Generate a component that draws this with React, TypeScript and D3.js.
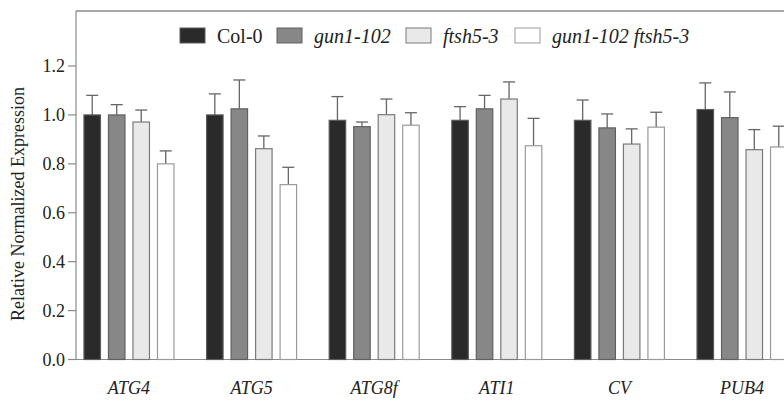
import React from 'react';
import * as d3 from 'd3';

const genes = ["ATG4", "ATG5", "ATG8f", "ATI1", "CV", "PUB4"];
const lines = ["Col-0", "gun1-102", "ftsh5-3", "gun1-102 ftsh5-3"];
const italicLegend = [false, true, true, true];

// mean expression per genotype, one array per gene (same order as lines)
const colValues = [1.0, 1.0, 0.978, 0.978, 0.978, 1.022];
const gun1Values = [1.0, 1.025, 0.952, 1.025, 0.947, 0.989];
const ftshValues = [0.971, 0.862, 1.001, 1.065, 0.881, 0.858];
const doubleValues = [0.8, 0.715, 0.958, 0.874, 0.95, 0.869];

// upper error bar end (mean + error)
const colErr = [1.08, 1.086, 1.075, 1.034, 1.061, 1.131];
const gun1Err = [1.042, 1.143, 0.971, 1.08, 1.004, 1.094];
const ftshErr = [1.02, 0.914, 1.065, 1.135, 0.943, 0.94];
const doubleErr = [0.853, 0.786, 1.009, 0.986, 1.011, 0.954];

const yTicks = [0, 0.2, 0.4, 0.6, 0.8, 1.0, 1.2];

const fills = ["#2a2a2a", "#878787", "#e9e9e9", "#ffffff"];
const strokes = ["#5a5a5a", "#606060", "#7a7a7a", "#9a9a9a"];

const W = 784;
const H = 402;
const left = 76;
const top = 11;
const bottom = 359.5;

const serif = { fontFamily: "'Liberation Serif', 'Times New Roman', Times, serif" };

const App = () => {
  const seriesVals = [colValues, gun1Values, ftshValues, doubleValues];
  const seriesErr = [colErr, gun1Err, ftshErr, doubleErr];

  const y = d3.scaleLinear().domain([0, 1.425]).range([bottom, top]);
  const x0 = d3.scaleBand().domain(genes).range([left, 795])
    .paddingInner(0.266).paddingOuter(0.065);
  const x1 = d3.scaleBand().domain(lines).range([0, x0.bandwidth()])
    .paddingInner(0.327).paddingOuter(0);

  const legendX = [180, 277, 406, 515];

  return (
    <svg width={W} height={H} style={{ position: 'absolute', left: 0, top: 0, background: '#fff' }}>
      <rect width={W} height={H} fill="#fff" />

      {/* frame */}
      <line x1={left} x2={W} y1={top} y2={top} stroke="#8a8a8a" strokeWidth={1.5} />
      <line x1={left} x2={left} y1={top} y2={bottom} stroke="#8a8a8a" strokeWidth={1.2} />
      <line x1={left} x2={W} y1={bottom} y2={bottom} stroke="#8a8a8a" strokeWidth={1.2} />

      {yTicks.map(t => (
        <g key={t}>
          <line x1={68} x2={left} y1={y(t)} y2={y(t)} stroke="#8a8a8a" strokeWidth={1.2} />
          <text x={65} y={y(t)} dy="0.34em" textAnchor="end" fontSize={18} fill="#222" style={serif}>
            {d3.format(".1f")(t)}
          </text>
        </g>
      ))}

      <text transform="translate(24,204) rotate(-90)" textAnchor="middle" fontSize={18} fill="#222" style={serif}>
        Relative Normalized Expression
      </text>

      {genes.map((g, gi) => (
        <g key={g} transform={`translate(${x0(g)},0)`}>
          {lines.map((s, si) => {
            const bx = x1(s) as number;
            const bw = x1.bandwidth();
            const v = seriesVals[si][gi];
            const e = seriesErr[si][gi];
            const cx = bx + bw / 2;
            return (
              <g key={s}>
                <line x1={cx} x2={cx} y1={y(v)} y2={y(e)} stroke="#666" strokeWidth={1.3} />
                <line x1={cx - 6} x2={cx + 6} y1={y(e)} y2={y(e)} stroke="#666" strokeWidth={1.3} />
                <rect x={bx} y={y(v)} width={bw} height={bottom - y(v)}
                  fill={fills[si]} stroke={strokes[si]} strokeWidth={1.2} />
              </g>
            );
          })}
          <text x={x0.bandwidth() / 2} y={394} textAnchor="middle" fontSize={18}
            fontStyle="italic" fill="#222" style={serif}>{g}</text>
        </g>
      ))}

      {lines.map((s, i) => (
        <g key={s} transform={`translate(${legendX[i]},0)`}>
          <rect x={0} y={28} width={25} height={15} fill={fills[i]} stroke={strokes[i]} strokeWidth={1} />
          <text x={37} y={43} fontSize={20} fill="#222" fontStyle={italicLegend[i] ? 'italic' : 'normal'} style={serif}>
            {s}
          </text>
        </g>
      ))}
    </svg>
  );
};

export default App;
